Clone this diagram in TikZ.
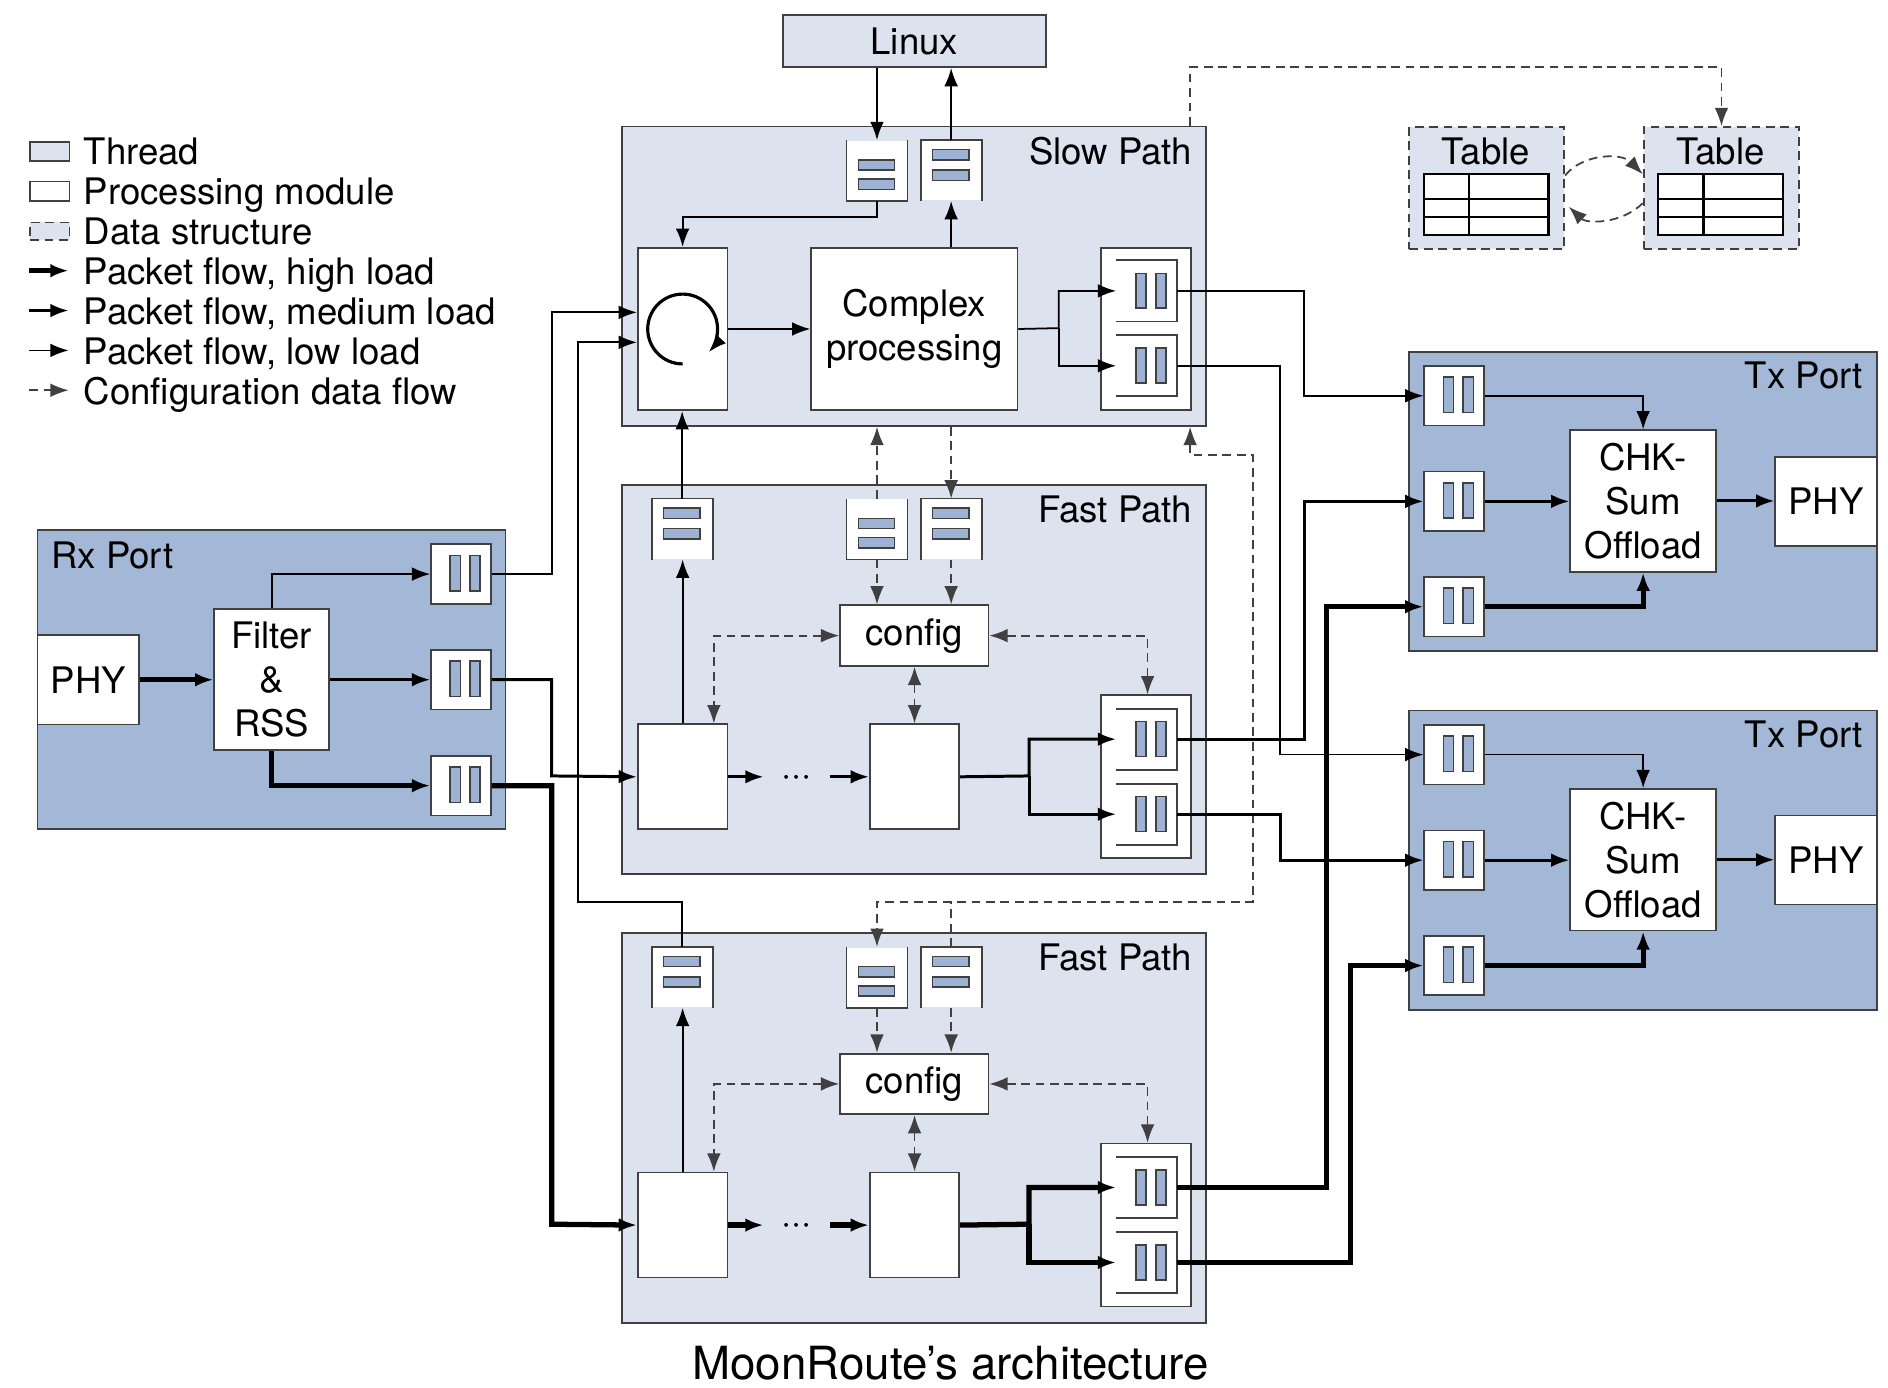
\documentclass[tikz,border=0pt]{standalone}
\usepackage{fontspec}
\setmainfont{TeX Gyre Heros}
\usetikzlibrary{arrows.meta,calc}
\definecolor{thr}{RGB}{220,226,238}
\definecolor{port}{RGB}{163,183,215}
\definecolor{barc}{RGB}{158,178,212}
\definecolor{edge}{RGB}{64,64,64}
\newcommand\upx{0.01204cm}
\newcommand\Bx[7]{\node[#2, minimum width={((#5)-(#3))*\upx}, minimum height={((#6)-(#4))*\upx}] (#1) at (#3,#4) {#7};}
\newcommand\HQ[3]{%
 \node[pm, minimum width=49.5*\upx, minimum height=49.5*\upx] (#1) at (#2,#3) {};
 \filldraw[barst] ($(#1.north west)+(16.5,10)$) rectangle ++(8.5,29.5);
 \filldraw[barst] ($(#1.north west)+(33,10)$) rectangle ++(8.5,29.5);}
\newcommand\IQ[3]{%
 \node[inner sep=0pt, anchor=north west, minimum width=49.3*\upx, minimum height=49.6*\upx] (#1) at (#2,#3) {};
 \draw[edgest] (#1.north west) -- (#1.north east) -- (#1.south east) -- (#1.south west);
 \filldraw[barst] ($(#1.north west)+(16.5,10.8)$) rectangle ++(8.3,29);
 \filldraw[barst] ($(#1.north west)+(33,10.8)$) rectangle ++(8.3,29);}
\newcommand\VQA[3]{%
 \node[inner sep=0pt, anchor=north west, fill=white, minimum width=49.5*\upx, minimum height=49.5*\upx] (#1) at (#2,#3) {};
 \draw[edgest] (#1.north west) -- (#1.south west) -- (#1.south east) -- (#1.north east);
 \filldraw[barst] ($(#1.north west)+(10,16.5)$) rectangle ++(30,8.5);
 \filldraw[barst] ($(#1.north west)+(10,32.5)$) rectangle ++(30,8.5);}
\newcommand\VQB[3]{%
 \node[inner sep=0pt, anchor=north west, fill=white, minimum width=49.5*\upx, minimum height=49.5*\upx] (#1) at (#2,#3) {};
 \draw[edgest] (#1.south west) -- (#1.north west) -- (#1.north east) -- (#1.south east);
 \filldraw[barst] ($(#1.north west)+(10,8)$) rectangle ++(30,8.5);
 \filldraw[barst] ($(#1.north west)+(10,25)$) rectangle ++(30,8.5);}
% fast path: prefix, dy, flow style
\newcommand\FP[3]{%
 \Bx{#1box}{thread}{516}{402+#2}{1001}{725.4+#2}{}
 \node[lbl, anchor=base east] (#1lab) at (990.5,434+#2) {Fast Path};
 \VQB{#1lq}{541.2}{414+#2}
 \VQA{#1qa}{703}{414+#2}
 \VQB{#1qb}{764.6}{414+#2}
 \Bx{#1cfg}{pm}{697}{502+#2}{820.2}{552.3+#2}{config}
 \Bx{#1ma}{pm}{529}{600.8+#2}{603.4}{688+#2}{}
 \Bx{#1mb}{pm}{721.7}{600.8+#2}{795.9}{688+#2}{}
 \node[lbl, anchor=base, minimum width=54*\upx] (#1dots) at (661.7,653+#2) {···};
 \Bx{#1out}{pm}{913.8}{576.7+#2}{988.6}{712.1+#2}{}
 \IQ{#1o1}{926.9}{588.5+#2}
 \IQ{#1o2}{926.9}{650.8+#2}
 \coordinate (#1split) at (854.6,644.4+#2);
 \coordinate (#1mtop) at ($(#1ma.north east)+(-12,0)$);
 \coordinate (#1otop) at ($(#1out.north east)+(-37,0)$);
 \draw[#3] (#1ma.east) -- (#1dots.west |- #1ma.east);
 \draw[#3] (#1dots.east |- #1mb.west) -- (#1mb.west);
 \draw[#3] (#1mb.east) -- (#1split) |- (#1o1.west);
 \draw[#3] (#1split) |- (#1o2.west);
 \draw[lowf] (#1ma.north) -- (#1ma.north |- #1lq.south);
 \draw[cfg] (#1qa.south) -- (#1qa.south |- #1cfg.north);
 \draw[cfg] (#1qb.south) -- (#1qb.south |- #1cfg.north);
 \draw[cfgb] (#1cfg.west) -| (#1mtop);
 \draw[cfgb] (#1cfg.east) -| (#1otop);
 \draw[cfgb] (#1cfg.south -| #1mb.north) -- (#1mb.north);}
% tx port: prefix, dy
\newcommand\TX[2]{%
 \Bx{#1box}{portb}{1169.7}{291.3+#2}{1558}{540+#2}{}
 \node[lbl, anchor=base east] (#1lab) at (1547.6,322.6+#2) {Tx Port};
 \HQ{#1q1}{1182.2}{303.2+#2}
 \HQ{#1q2}{1182.2}{390.9+#2}
 \HQ{#1q3}{1182.2}{478.4+#2}
 \Bx{#1chk}{pm}{1303.4}{356.6+#2}{1424.4}{474+#2}{CHK-\\Sum\\Offload}
 \Bx{#1phy}{pm}{1473.7}{378.5+#2}{1558}{452.4+#2}{PHY}
 \draw[lowf] (#1q1.east) -| (#1chk.north);
 \draw[medf] (#1q2.east) -- (#1q2.east -| #1chk.west);
 \draw[highf] (#1q3.east) -| (#1chk.south);
 \draw[medf] (#1chk.east) -- (#1chk.east -| #1phy.west);}
\begin{document}
\begin{tikzpicture}[x=0.01204cm, y=-0.01204cm,
 font=\fontsize{10.4pt}{12.5pt}\selectfont,
 >={Latex[length=5.2pt,width=3.9pt]},
 bx/.style={draw=edge, line width=0.5pt, inner sep=0pt, anchor=north west, align=center},
 thread/.style={bx, fill=thr},
 portb/.style={bx, fill=port},
 pm/.style={bx, fill=white},
 dsbox/.style={bx, fill=thr, dash pattern=on 2.5pt off 1.6pt},
 edgest/.style={draw=edge, line width=0.5pt},
 barst/.style={fill=barc, draw=edge, line width=0.45pt},
 lowf/.style={line width=0.5pt, ->},
 medf/.style={line width=0.85pt, ->},
 highf/.style={line width=1.5pt, ->},
 cfgline/.style={draw=edge, line width=0.5pt, dash pattern=on 2.5pt off 1.6pt},
 cfg/.style={cfgline, ->},
 cfgb/.style={cfgline, <->},
 lbl/.style={inner sep=0pt},
 gridst/.style={draw=black, line width=0.6pt}]
\useasboundingbox (0,0) rectangle (1568,1152);

% ---------- legend ----------
\Bx{lgthr}{thread}{24.4}{117}{57}{133}{}
\Bx{lgpm}{pm}{24.4}{150}{57}{166}{}
\Bx{lgds}{dsbox}{24.4}{184}{57}{198.5}{}
\coordinate (lga1) at (24.4,224.8); \coordinate (lgb1) at (57,224.8);
\coordinate (lga2) at (24.4,257.9); \coordinate (lgb2) at (57,257.9);
\coordinate (lga3) at (24.4,291);   \coordinate (lgb3) at (57,291);
\coordinate (lga4) at (24.4,324.1); \coordinate (lgb4) at (57,324.1);
\draw[highf] (lga1) -- (lgb1);
\draw[medf] (lga2) -- (lgb2);
\draw[lowf] (lga3) -- (lgb3);
\draw[cfg] (lga4) -- (lgb4);
\node[lbl, anchor=base west] (lgt1) at (69,137) {Thread};
\node[lbl, anchor=base west] (lgt2) at (69,170.1) {Processing module};
\node[lbl, anchor=base west] (lgt3) at (69,203.2) {Data structure};
\node[lbl, anchor=base west] (lgt4) at (69,236.3) {Packet flow, high load};
\node[lbl, anchor=base west] (lgt5) at (69,269.4) {Packet flow, medium load};
\node[lbl, anchor=base west] (lgt6) at (69,302.5) {Packet flow, low load};
\node[lbl, anchor=base west] (lgt7) at (69,335.6) {Configuration data flow};

% ---------- Linux & slow path ----------
\Bx{linux}{thread}{649.4}{12}{867.8}{55}{Linux}
\Bx{sp}{thread}{516}{104.4}{1001}{353}{}
\node[lbl, anchor=base east] (splab) at (990.5,136.5) {Slow Path};
\VQA{spq1}{703}{116.3}
\VQB{spq2}{764.6}{116.3}
\Bx{sched}{pm}{529}{205}{603.4}{340}{}
\Bx{cplx}{pm}{673}{205}{844.2}{340}{Complex\\processing}
\Bx{spout}{pm}{913.8}{205}{988.6}{340}{}
\IQ{spo1}{926.9}{216.2}
\IQ{spo2}{926.9}{278.4}
\draw[line width=0.9pt, ->] ($(sched.center)+(0,29)$) arc[start angle=270, end angle=-42, radius=29*\upx];
\coordinate (spsplit) at (879.3,272.5);
\draw[lowf] (linux.south -| spq1.north) -- (spq1.north);
\draw[lowf] (spq2.north) -- (linux.south -| spq2.north);
\draw[lowf] (spq1.south) -- ++(0,13) -| (sched.north);
\draw[lowf] (sched.east) -- (cplx.west);
\draw[lowf] (cplx.north -| spq2.south) -- (spq2.south);
\draw[lowf] (cplx.east) -- (spsplit) |- (spo1.west);
\draw[lowf] (spsplit) |- (spo2.west);

% ---------- tables ----------
\Bx{tab1}{dsbox}{1169.7}{104.7}{1298.4}{206.3}{}
\Bx{tab2}{dsbox}{1364.3}{104.7}{1493.6}{206.3}{}
\node[lbl, anchor=base] (tab1lab) at (1234,136.2) {Table};
\node[lbl, anchor=base] (tab2lab) at (1429,136.2) {Table};
\filldraw[gridst, fill=white] (1182.7,144.5) rectangle (1286,195.2);
\draw[gridst] (1220.3,144.5) -- (1220.3,195.2) (1182.7,165.5) -- (1286,165.5) (1182.7,180) -- (1286,180);
\filldraw[gridst, fill=white] (1376.8,144.5) rectangle (1480.6,195.2);
\draw[gridst] (1414.7,144.5) -- (1414.7,195.2) (1376.8,165.5) -- (1480.6,165.5) (1376.8,180) -- (1480.6,180);
\draw[cfg] ($(tab1.north east)+(0,41)$) .. controls (1315,127) and (1347,127) .. ($(tab2.north west)+(0,40)$);
\draw[cfg] ($(tab2.north west)+(0,64)$) .. controls (1347,186) and (1318,186) .. ($(tab1.north east)+(3,67)$);
\coordinate (t1) at (988.6,55.7);
\draw[cfg] (sp.north -| t1) -- (t1) -| (tab2.north);

% ---------- Rx port ----------
\Bx{rx}{portb}{30.5}{439.4}{419}{688}{}
\node[lbl, anchor=base west] (rxlab) at (42,472) {Rx Port};
\Bx{rxphy}{pm}{30.5}{526.6}{115}{601}{PHY}
\Bx{filt}{pm}{177.2}{505.3}{272.7}{622.4}{Filter\\\&\\RSS}
\HQ{rxq1}{357.3}{451.3}
\HQ{rxq2}{357.3}{539}
\HQ{rxq3}{357.3}{627}
\draw[highf] (rxphy.east) -- (rxphy.east -| filt.west);
\draw[lowf] (filt.north) |- (rxq1.west);
\draw[medf] (filt.east |- rxq2.west) -- (rxq2.west);
\draw[highf] (filt.south) |- (rxq3.west);

% ---------- fast paths ----------
\FP{fa}{0}{medf}
\FP{fb}{372.3}{highf}

% ---------- tx ports ----------
\TX{ta}{0}
\TX{tb}{298}

% ---------- cross connections ----------
\coordinate (r1) at (480.3,749);
\coordinate (r2) at (480.3,284.3);
\coordinate (r3) at (458.2,259.4);
\coordinate (r4) at (458.2,644.4);
\coordinate (r5) at (458.2,1016.7);
\draw[lowf] (rxq1.east) -| (r3) -- (r3 -| sched.west);
\draw[medf] (rxq2.east) -| (r4) -- (fama.west);
\draw[highf] (rxq3.east) -| (r5) -- (fbma.west);
\draw[lowf] (fblq.north) |- (r1) -- (r2) -- (r2 -| sched.west);
\draw[lowf] (falq.north) -- (falq.north |- sched.south);
\draw[cfg] (faqa.north) -- (faqa.north |- sp.south);
\draw[cfg] (sp.south -| faqb.north) -- (faqb.north);

\coordinate (d0) at (988.4,378);
\coordinate (d1) at (1040.4,378);
\coordinate (d2) at (1040.4,749);
\draw[cfgb] (d0 |- sp.south) -- (d0) -- (d1) -- (d2) -| (fbqa.north);
\draw[cfgline] (fbqb.north) -- (fbqb.north |- d2);

\coordinate (va) at (1083,0);
\coordinate (vb) at (1063.1,0);
\coordinate (vc) at (1101.9,0);
\coordinate (vd) at (1121.5,0);
\draw[lowf] (spo1.east) -- (spo1.east -| va) |- (taq1.west);
\draw[lowf] (spo2.east) -- (spo2.east -| vb) |- (tbq1.west);
\draw[medf] (fao1.east) -- (fao1.east -| va) |- (taq2.west);
\draw[medf] (fao2.east) -- (fao2.east -| vb) |- (tbq2.west);
\draw[highf] (fbo1.east) -- (fbo1.east -| vc) |- (taq3.west);
\draw[highf] (fbo2.east) -- (fbo2.east -| vd) |- (tbq3.west);

% ---------- caption ----------
\node[lbl, anchor=base, font=\fontsize{13pt}{15pt}\selectfont] (cap) at (789.5,1146) {MoonRoute’s architecture};
\end{tikzpicture}
\end{document}
